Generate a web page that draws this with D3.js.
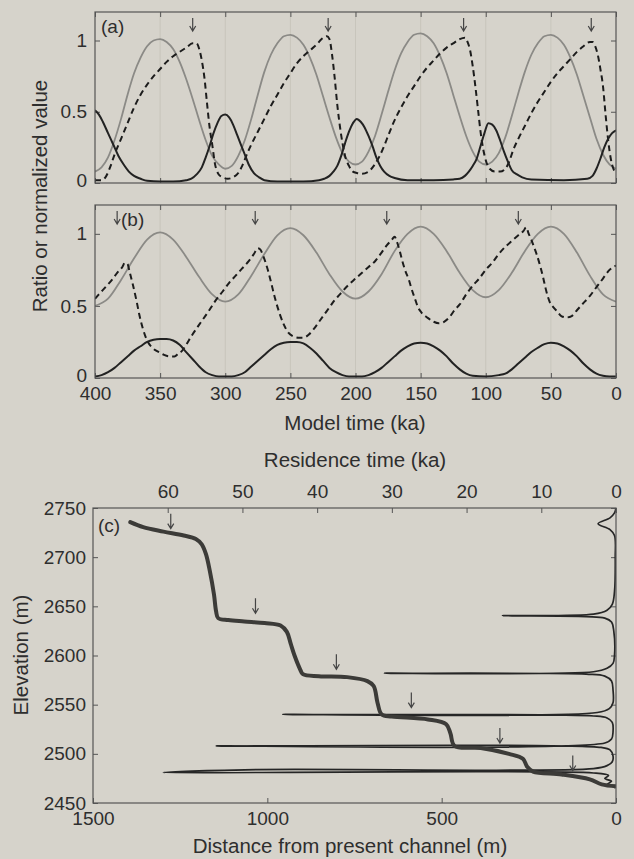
<!DOCTYPE html>
<html>
<head>
<meta charset="utf-8">
<script src="https://cdn.jsdelivr.net/npm/d3@7"></script>
<style>
  body { margin: 0; background: #d6d3cb; }
  svg { display: block; font-family: "Liberation Sans", Arial, sans-serif; }
  .tick text { font-size: 19px; fill: #2e2e2e; }
  .tick line { stroke: #555; }
  .domain { display: none; }
  .title { font-size: 20.5px; fill: #2e2e2e; }
  .panel { font-size: 19px; fill: #2e2e2e; }
</style>
</head>
<body>
<svg id="chart" width="634" height="859"></svg>
<script>
/* tick labels */
const modelTimeTicks = [400, 350, 300, 250, 200, 150, 100, 50, 0];
const ratioTicks = [0, 0.5, 1];
const elevTicks = [2450, 2500, 2550, 2600, 2650, 2700, 2750];
const distTicks = [1500, 1000, 500, 0];
const resTicks = [60, 50, 40, 30, 20, 10, 0];

/* (a) model time (ka), value */
const aGray = [[400,0.08],[395,0.11],[390,0.18],[385,0.30],[380,0.45],[375,0.62],[370,0.77],[365,0.88],[360,0.96],[355,1.00],[350,1.01],[345,0.99],[340,0.94],[335,0.85],[330,0.73],[325,0.59],[320,0.44],[315,0.30],[310,0.19],[305,0.13],[300,0.10],[295,0.12],[290,0.19],[285,0.30],[280,0.45],[275,0.62],[270,0.78],[265,0.90],[260,0.98],[255,1.03],[250,1.04],[245,1.02],[240,0.97],[235,0.88],[230,0.76],[225,0.61],[220,0.46],[215,0.32],[210,0.21],[205,0.15],[200,0.13],[195,0.15],[190,0.22],[185,0.33],[180,0.48],[175,0.64],[170,0.79],[165,0.91],[160,0.99],[155,1.04],[150,1.05],[145,1.03],[140,0.98],[135,0.89],[130,0.77],[125,0.62],[120,0.47],[115,0.33],[110,0.22],[105,0.15],[100,0.13],[95,0.15],[90,0.21],[85,0.32],[80,0.47],[75,0.63],[70,0.78],[65,0.90],[60,0.98],[55,1.03],[50,1.04],[45,1.02],[40,0.97],[35,0.88],[30,0.76],[25,0.61],[20,0.46],[15,0.31],[10,0.20],[5,0.13],[0,0.10]];
const aDashed = [[400,0.02],[395,0.02],[392,0.04],[388,0.12],[385,0.20],[380,0.31],[375,0.42],[370,0.53],[365,0.62],[360,0.69],[355,0.75],[350,0.80],[345,0.85],[340,0.89],[335,0.92],[330,0.95],[325,0.98],[322,0.98],[320,0.94],[318,0.86],[316,0.74],[314,0.56],[312,0.39],[310,0.27],[308,0.14],[305,0.06],[302,0.04],[298,0.03],[294,0.04],[290,0.07],[287,0.12],[283,0.21],[280,0.27],[275,0.36],[270,0.45],[265,0.54],[260,0.62],[255,0.70],[250,0.77],[245,0.84],[240,0.89],[235,0.93],[230,0.97],[226,1.01],[222,1.03],[220,1.01],[218,0.90],[216,0.74],[214,0.55],[212,0.40],[210,0.28],[208,0.19],[205,0.12],[202,0.08],[199,0.07],[195,0.065],[190,0.08],[186,0.12],[182,0.18],[178,0.26],[175,0.33],[171,0.42],[165,0.53],[160,0.61],[155,0.68],[150,0.75],[145,0.81],[140,0.86],[135,0.91],[130,0.95],[125,0.98],[120,1.01],[116,1.02],[114,0.99],[112,0.93],[110,0.82],[108,0.68],[106,0.52],[104,0.36],[102,0.24],[100,0.16],[97,0.10],[93,0.08],[89,0.08],[85,0.10],[82,0.15],[79,0.23],[75,0.31],[70,0.40],[65,0.49],[60,0.57],[55,0.64],[50,0.71],[45,0.77],[40,0.82],[35,0.87],[30,0.92],[25,0.96],[20,0.99],[18,0.99],[16,0.96],[14,0.90],[12,0.80],[10,0.68],[8,0.48],[6,0.30],[4,0.17],[2,0.10],[0,0.07]];
const aBlack = [[400,0.51],[397,0.48],[394,0.43],[390,0.35],[386,0.27],[382,0.19],[378,0.13],[374,0.08],[370,0.05],[365,0.03],[360,0.015],[350,0.01],[340,0.01],[330,0.02],[326,0.03],[322,0.06],[318,0.11],[315,0.18],[312,0.26],[309,0.35],[306,0.42],[303,0.47],[300,0.48],[297,0.46],[294,0.41],[291,0.34],[288,0.27],[285,0.20],[282,0.13],[278,0.07],[274,0.04],[270,0.02],[260,0.01],[240,0.01],[228,0.02],[224,0.03],[220,0.05],[217,0.08],[214,0.12],[211,0.19],[208,0.28],[205,0.36],[202,0.42],[199,0.45],[196,0.43],[193,0.39],[190,0.33],[187,0.26],[184,0.18],[181,0.12],[178,0.08],[174,0.05],[170,0.035],[160,0.02],[140,0.02],[125,0.025],[120,0.03],[116,0.05],[113,0.08],[110,0.12],[107,0.17],[104,0.26],[101,0.35],[98,0.42],[95,0.41],[92,0.37],[89,0.30],[86,0.22],[83,0.15],[80,0.09],[76,0.06],[72,0.04],[65,0.025],[40,0.02],[22,0.03],[18,0.05],[15,0.10],[12,0.17],[9,0.25],[6,0.31],[3,0.35],[0,0.37]];
const aArrows = [325, 221, 117, 19];

/* (b) model time (ka), value */
const bGray = [[400,0.50],[390,0.55],[380,0.68],[370,0.83],[360,0.96],[350,1.01],[340,0.96],[330,0.84],[320,0.70],[310,0.58],[300,0.53],[290,0.58],[280,0.71],[270,0.86],[260,0.99],[250,1.04],[240,0.99],[230,0.87],[220,0.72],[210,0.60],[200,0.55],[190,0.60],[180,0.72],[170,0.88],[160,1.00],[150,1.05],[140,1.00],[130,0.88],[120,0.73],[110,0.61],[100,0.56],[90,0.61],[80,0.73],[70,0.88],[60,1.00],[50,1.05],[40,1.00],[30,0.87],[20,0.71],[10,0.58],[0,0.53]];
const bDashed = [[400,0.55],[395,0.60],[391,0.64],[387,0.68],[383,0.73],[379,0.77],[377,0.80],[375,0.79],[373.5,0.74],[371,0.65],[368,0.53],[366,0.44],[363.5,0.35],[360,0.26],[356,0.21],[351,0.18],[347,0.16],[343,0.15],[339,0.15],[336,0.17],[333,0.19],[330,0.23],[326,0.29],[320,0.37],[313,0.46],[308,0.53],[302,0.60],[297,0.66],[292,0.71],[287,0.76],[282,0.81],[278,0.86],[275,0.90],[273,0.89],[271,0.85],[269,0.80],[267,0.74],[265,0.67],[262,0.56],[258,0.44],[255,0.37],[252,0.32],[248,0.29],[244,0.28],[240,0.28],[236,0.30],[232,0.34],[228,0.39],[224,0.44],[220,0.49],[216,0.54],[212,0.58],[206,0.64],[200,0.69],[195,0.73],[190,0.77],[185,0.81],[180,0.87],[176,0.92],[172,0.96],[170,0.98],[168,0.94],[166,0.88],[164,0.81],[162,0.75],[159,0.68],[157,0.62],[154,0.54],[152,0.49],[149,0.45],[145,0.42],[140,0.39],[136,0.38],[132,0.39],[128,0.42],[124,0.47],[120,0.51],[115,0.58],[110,0.64],[105,0.69],[100,0.75],[95,0.80],[90,0.86],[85,0.91],[80,0.95],[75,0.99],[71,1.02],[69,1.045],[67,1.00],[65,0.96],[63,0.91],[61,0.86],[58,0.77],[56,0.70],[54,0.62],[51,0.53],[48,0.49],[45,0.46],[42,0.43],[38,0.42],[34,0.43],[30,0.47],[26,0.51],[20,0.57],[15,0.63],[10,0.69],[5,0.75],[0,0.78]];
const bBlack = [[400,0.01],[395,0.02],[390,0.04],[385,0.07],[380,0.11],[375,0.15],[370,0.19],[365,0.22],[360,0.25],[355,0.265],[350,0.27],[345,0.27],[340,0.26],[335,0.23],[330,0.18],[325,0.13],[320,0.08],[315,0.04],[310,0.02],[305,0.01],[295,0.01],[290,0.02],[285,0.04],[280,0.08],[275,0.12],[270,0.16],[265,0.20],[260,0.23],[255,0.245],[250,0.25],[245,0.25],[240,0.24],[235,0.21],[230,0.17],[225,0.12],[220,0.07],[215,0.04],[210,0.02],[205,0.01],[195,0.01],[190,0.02],[185,0.04],[180,0.07],[175,0.11],[170,0.15],[165,0.19],[160,0.22],[155,0.24],[150,0.245],[145,0.24],[140,0.22],[135,0.19],[130,0.15],[125,0.10],[120,0.06],[115,0.03],[110,0.015],[100,0.01],[90,0.02],[85,0.03],[80,0.06],[75,0.10],[70,0.14],[65,0.18],[60,0.21],[55,0.235],[50,0.245],[45,0.24],[40,0.22],[35,0.19],[30,0.15],[25,0.10],[20,0.06],[15,0.03],[10,0.015],[5,0.01],[0,0.01]];
const bArrows = [383, 277, 176, 75];

/* (c) distance (m), elevation (m) */
const cProfile = [[1393,2735.6],[1356,2730.5],[1298,2726],[1240,2722],[1205,2718.5],[1188,2713],[1176,2703],[1165,2686],[1153,2662],[1147,2645],[1141,2638],[1112,2636],[1066,2634.6],[1008,2633],[962,2630.5],[944,2624],[933,2612],[922,2600],[906,2586],[898,2581],[852,2579],[771,2578],[713,2574],[695,2569],[684,2552],[672,2540],[643,2538],[539,2535],[487,2530],[475,2521],[463,2508],[388,2506],[307,2500],[267,2495],[255,2487],[238,2482],[156,2479],[75,2474],[41,2469],[0,2467]];
/* (c) residence time (ka), elevation (m) */
const cResidence = [[0,2750],[0.2,2745],[0.8,2740],[2.4,2734],[0.8,2728],[0.2,2722],[0.1,2700],[0.2,2665],[0.5,2652],[1.2,2646],[3,2642],[15.2,2640.5],[4,2639.5],[1.5,2638],[0.6,2634],[0.3,2625],[0.2,2600],[0.4,2592],[1.2,2587],[3,2583.5],[31,2582],[4,2581],[1.5,2579],[0.6,2574],[0.4,2565],[0.4,2552],[0.9,2546],[2.5,2542],[44.6,2540],[3,2538.5],[1.2,2536.5],[0.5,2532],[0.4,2522],[0.6,2515],[1.5,2511],[53.5,2508],[2,2506.5],[0.8,2504],[0.4,2498],[0.5,2492],[1.2,2488],[3,2485],[48,2484],[60.6,2481],[3,2480.5],[1,2478],[1.5,2475],[0.6,2472],[1.2,2469],[0.3,2467],[0.1,2465]];
const cArrows = [[1277,2729],[1034,2643],[802,2586],[587,2547],[333,2511],[124,2483]];

const svg = d3.select("#chart");

function arrow(px, py, len) {
  return `M${px},${py - len}L${px},${py}M${px - 3},${py - 5}L${px},${py}L${px + 3},${py - 5}`;
}

function timePanel(top, bottom, gray, dashed, black, arrows, label, showX) {
  const left = 95, right = 616;
  const x = d3.scaleLinear().domain([400, 0]).range([left, right]);
  const y = d3.scaleLinear().domain([0, 1.2]).range([bottom, top]);
  const g = svg.append("g");
  const clipId = "clip" + top;
  g.append("clipPath").attr("id", clipId)
    .append("rect").attr("x", left).attr("y", top)
    .attr("width", right - left).attr("height", bottom - top);

  /* faint grid */
  g.selectAll(".grid")
    .data(modelTimeTicks.slice(1, -1))
    .join("line")
    .attr("x1", d => x(d)).attr("x2", d => x(d))
    .attr("y1", top).attr("y2", bottom)
    .attr("stroke", "#c4c1b8").attr("stroke-width", 0.8);

  /* axes, ticks inward */
  g.append("g").attr("transform", `translate(0,${bottom})`)
    .call(d3.axisBottom(x).tickValues(modelTimeTicks).tickSizeInner(-5).tickSizeOuter(0).tickPadding(9)
      .tickFormat(showX ? d3.format("d") : ""));
  g.append("g").attr("transform", `translate(0,${top})`)
    .call(d3.axisTop(x).tickValues(modelTimeTicks).tickSizeInner(-5).tickSizeOuter(0).tickFormat(""));
  g.append("g").attr("transform", `translate(${left},0)`)
    .call(d3.axisLeft(y).tickValues(ratioTicks).tickSizeInner(-5).tickSizeOuter(0).tickPadding(8)
      .tickFormat(d => String(d)))
    .selectAll("text").attr("dy", d => d === 0 ? "0.2em" : "0.32em");
  g.append("g").attr("transform", `translate(${right},0)`)
    .call(d3.axisRight(y).tickValues(ratioTicks).tickSizeInner(-5).tickSizeOuter(0).tickFormat(""));

  const line = d3.line()
    .x(d => x(d[0]))
    .y(d => y(d[1]))
    .curve(d3.curveMonotoneX);

  const lines = g.append("g").attr("clip-path", `url(#${clipId})`).attr("fill", "none");
  lines.append("path").attr("d", line(gray))
    .attr("stroke", "#8b8a86").attr("stroke-width", 1.8);
  lines.append("path").attr("d", line(dashed))
    .attr("stroke", "#1c1c1c").attr("stroke-width", 2).attr("stroke-dasharray", "6,4");
  lines.append("path").attr("d", line(black))
    .attr("stroke", "#222").attr("stroke-width", 2);

  g.selectAll(".arrow")
    .data(arrows)
    .join("path")
    .attr("d", d => arrow(x(d), top + 19, 13))
    .attr("fill", "none").attr("stroke", "#444").attr("stroke-width", 1.2);

  g.append("rect")
    .attr("x", left).attr("y", top)
    .attr("width", right - left).attr("height", bottom - top)
    .attr("fill", "none").attr("stroke", "#555").attr("stroke-width", 1.2);

  g.append("text").attr("class", "panel")
    .attr("x", label.x).attr("y", top + 21)
    .text(label.text);
  return x;
}

timePanel(12, 183, aGray, aDashed, aBlack, aArrows, { x: 101, text: "(a)" }, false);
timePanel(205, 378, bGray, bDashed, bBlack, bArrows, { x: 121, text: "(b)" }, true);

svg.append("text").attr("class", "title")
  .attr("transform", "translate(47,196) rotate(-90)")
  .attr("text-anchor", "middle")
  .text("Ratio or normalized value");
svg.append("text").attr("class", "title")
  .attr("x", 355).attr("y", 430)
  .attr("text-anchor", "middle")
  .text("Model time (ka)");

/* (c) */
{
  const left = 93, right = 616, top = 508, bottom = 803;
  const x = d3.scaleLinear().domain([1500, 0]).range([left, right]);
  const xr = d3.scaleLinear().domain([70, 0]).range([left, right]);
  const y = d3.scaleLinear().domain([2450, 2750]).range([bottom, top]);
  const g = svg.append("g");
  g.append("clipPath").attr("id", "clipc")
    .append("rect").attr("x", left).attr("y", top)
    .attr("width", right - left).attr("height", bottom - top);

  g.append("g").attr("transform", `translate(0,${bottom})`)
    .call(d3.axisBottom(x).tickValues(distTicks).tickSizeInner(-5).tickSizeOuter(0).tickPadding(9)
      .tickFormat(d3.format("d")));
  g.append("g").attr("transform", `translate(0,${top})`)
    .call(d3.axisTop(xr).tickValues(resTicks).tickSizeInner(-5).tickSizeOuter(0).tickPadding(10)
      .tickFormat(d3.format("d")));
  g.append("g").attr("transform", `translate(${left},0)`)
    .call(d3.axisLeft(y).tickValues(elevTicks).tickSizeInner(-5).tickSizeOuter(0).tickPadding(7)
      .tickFormat(d3.format("d")));
  g.append("g").attr("transform", `translate(${right},0)`)
    .call(d3.axisRight(y).tickValues(elevTicks).tickSizeInner(-5).tickSizeOuter(0).tickFormat(""));

  const lines = g.append("g").attr("clip-path", "url(#clipc)").attr("fill", "none");
  const profile = d3.line()
    .x(d => x(d[0]))
    .y(d => y(d[1]))
    .curve(d3.curveCatmullRom.alpha(0.5));
  const residence = d3.line()
    .x(d => xr(d[0]))
    .y(d => y(d[1]))
    .curve(d3.curveCatmullRom.alpha(0.5));

  lines.append("path").attr("d", residence(cResidence))
    .attr("stroke", "#262626").attr("stroke-width", 1.7);
  lines.append("path").attr("d", profile(cProfile))
    .attr("stroke", "#3c3b38").attr("stroke-width", 4)
    .attr("stroke-linejoin", "round").attr("stroke-linecap", "round");

  g.selectAll(".arrow")
    .data(cArrows)
    .join("path")
    .attr("d", d => arrow(x(d[0]), y(d[1]), 15))
    .attr("fill", "none").attr("stroke", "#444").attr("stroke-width", 1.2);

  g.append("rect")
    .attr("x", left).attr("y", top)
    .attr("width", right - left).attr("height", bottom - top)
    .attr("fill", "none").attr("stroke", "#555").attr("stroke-width", 1.2);

  g.append("text").attr("class", "panel")
    .attr("x", 98).attr("y", 532)
    .text("(c)");
}

svg.append("text").attr("class", "title")
  .attr("x", 355).attr("y", 467)
  .attr("text-anchor", "middle")
  .text("Residence time (ka)");
svg.append("text").attr("class", "title")
  .attr("transform", "translate(28,655) rotate(-90)")
  .attr("text-anchor", "middle")
  .text("Elevation (m)");
svg.append("text").attr("class", "title")
  .attr("x", 350).attr("y", 853)
  .attr("text-anchor", "middle")
  .text("Distance from present channel (m)");
</script>
</body>
</html>
